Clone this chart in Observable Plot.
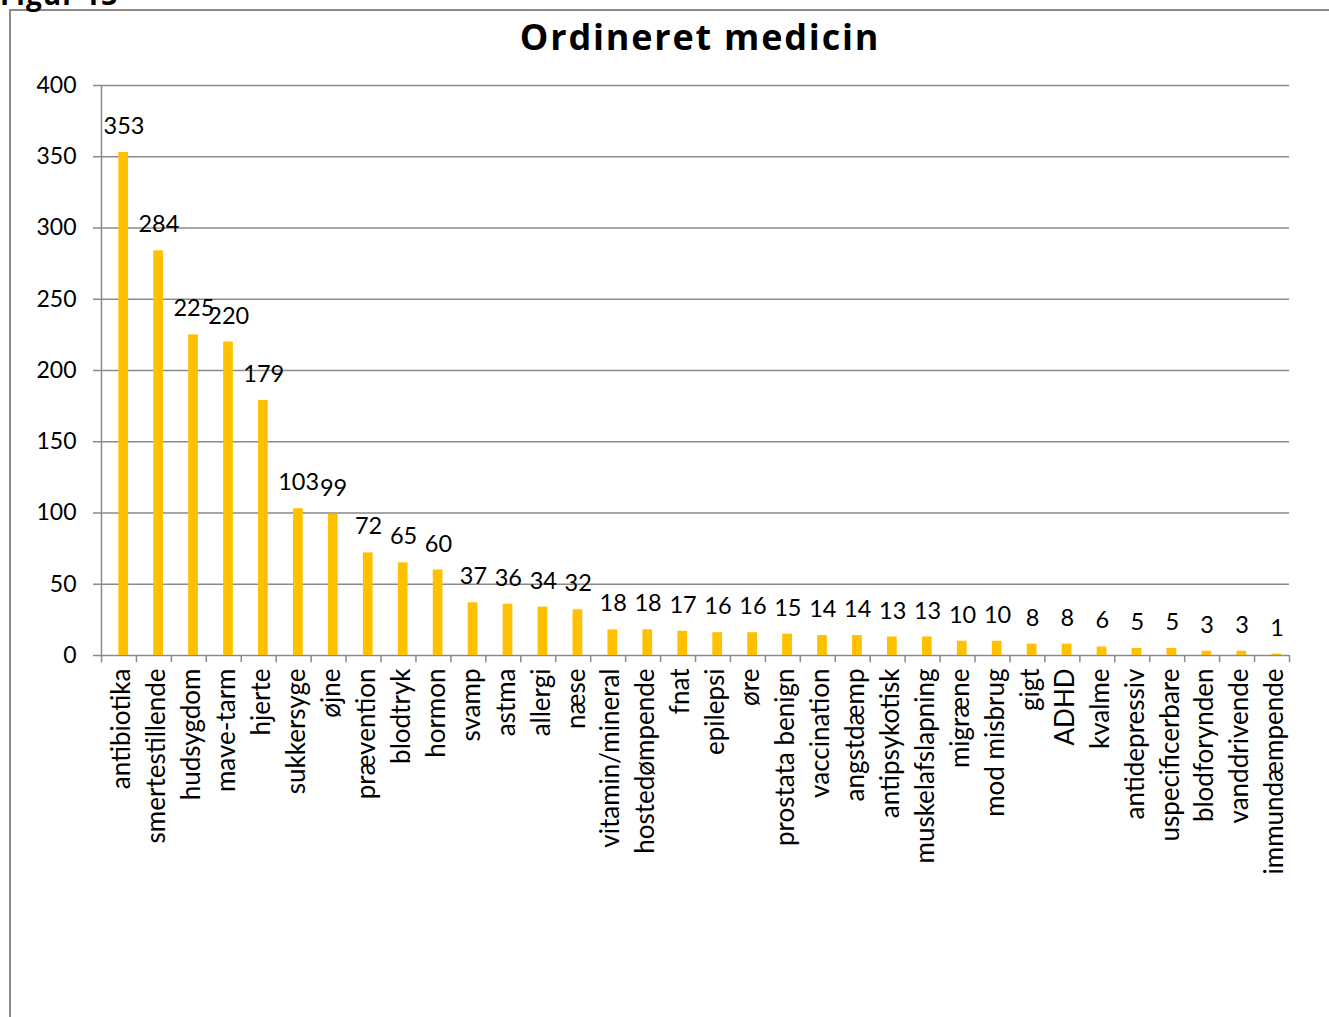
<!DOCTYPE html>
<html><head><meta charset="utf-8">
<script src="https://cdn.jsdelivr.net/npm/d3@7"></script>
<script src="https://cdn.jsdelivr.net/npm/@observablehq/plot@0.6"></script>
<style>
body{margin:0;background:#fff;overflow:hidden;width:1329px;height:1017px;position:relative;font-family:Lato,sans-serif;}
#frame{position:absolute;left:9px;top:9px;width:1400px;height:1100px;border:2px solid #8a8a8a;box-sizing:border-box}
#fig{position:absolute;left:0;top:-20px;font-family:"Open Sans",sans-serif;font-weight:bold;font-size:28px;line-height:28px;letter-spacing:1px;color:#000}
#title{position:absolute;left:350px;width:700px;top:19px;text-align:center;font-family:"Open Sans",sans-serif;font-weight:bold;font-size:36px;line-height:36px;letter-spacing:1.8px;color:#000}
#chart{position:absolute;left:0;top:0}
#chart svg{overflow:visible}
</style></head>
<body>
<div id="frame"></div>
<div id="fig">Figur 13</div>
<div id="chart"></div>
<div id="title">Ordineret medicin</div>
<script>
const categories = ["antibiotika","smertestillende","hudsygdom","mave-tarm","hjerte","sukkersyge","øjne","prævention","blodtryk","hormon","svamp","astma","allergi","næse","vitamin/mineral","hostedømpende","fnat","epilepsi","øre","prostata benign","vaccination","angstdæmp","antipsykotisk","muskelafslapning","migræne","mod misbrug","gigt","ADHD","kvalme","antidepressiv","uspecificerbare","blodforynden","vanddrivende","immundæmpende"];
const values = [353,284,225,220,179,103,99,72,65,60,37,36,34,32,18,18,17,16,16,15,14,14,13,13,10,10,8,8,6,5,5,3,3,1];
const yTicks = [0,50,100,150,200,250,300,350,400];

const data = categories.map((c,i)=>({cat:c, value:values[i]}));
const W = 1329, H = 1017, mL = 101, mR = 40, mT = 85, mB = 362;
const step = (W - mL - mR) / categories.length;
const grid = "#8a8a8a";

const chart = Plot.plot({
  width: W, height: H,
  marginLeft: mL, marginRight: mR, marginTop: mT, marginBottom: mB,
  style: {fontFamily: "Lato, sans-serif", fontSize: "23px", color: "#000", background: "transparent"},
  x: {domain: categories, padding: 0, axis: null},
  y: {domain: [0, 400], axis: null},
  marks: [
    Plot.ruleY(yTicks, {stroke: grid, strokeWidth: 1.5, strokeOpacity: 1}),
    Plot.axisY({ticks: yTicks, tickSize: 8, tickPadding: 17, stroke: grid, strokeWidth: 1.5, fontSize: 23, tickFormat: d => d, label: null}),
    Plot.ruleX([categories[0]], {dx: -step/2, y1: -5, y2: 400, stroke: grid, strokeWidth: 1.5}),
    Plot.ruleX(categories, {x: d => d, dx: step/2, y1: -5, y2: 0, stroke: grid, strokeWidth: 1.5}),
    Plot.barY(data, {x: "cat", y: "value", fill: "#FFC000", insetLeft: 17.3, insetRight: 7.9}),
    Plot.text(data, {x: "cat", y: "value", text: d => String(d.value), dx: 5, dy: -26, fontSize: 23.5, fill: "#000"}),
    Plot.axisX({tickSize: 0, tickRotate: -90, tickPadding: 13, fontSize: 26, dx: 3, stroke: "none", label: null})
  ]
});
document.getElementById("chart").appendChild(chart);
</script>
</body></html>
